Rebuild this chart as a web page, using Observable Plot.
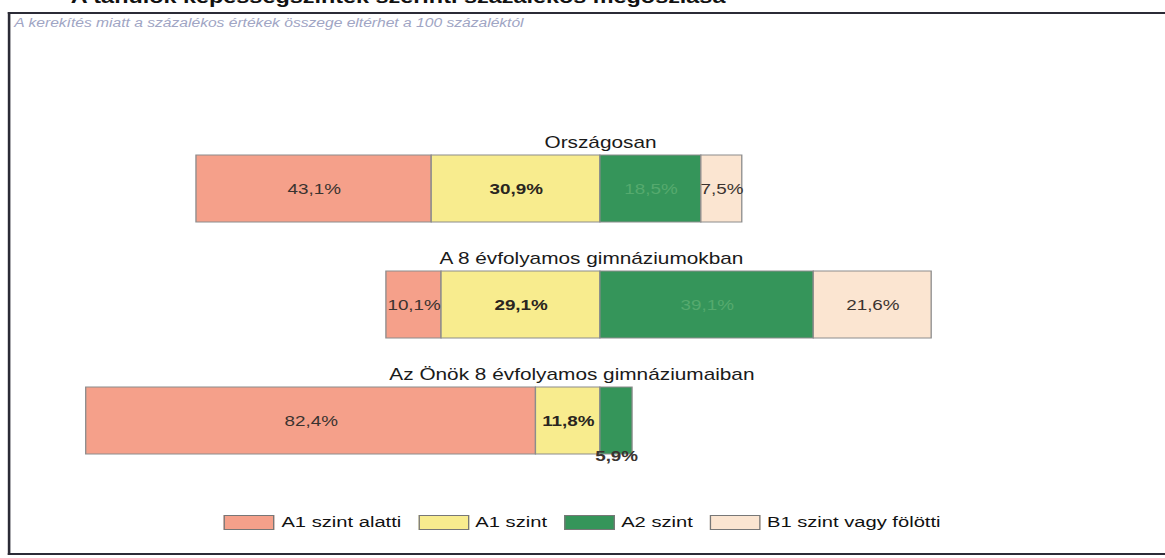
<!DOCTYPE html>
<html>
<head>
<meta charset="utf-8">
<script src="https://cdn.jsdelivr.net/npm/d3@7"></script>
<script src="https://cdn.jsdelivr.net/npm/@observablehq/plot@0.6"></script>
<style>
  html, body { margin: 0; padding: 0; background: #fff; overflow: hidden; width: 1165px; height: 558px; }
  #wrap { position: absolute; left: 0; top: 0; width: 896px; height: 558px; transform: scaleX(1.3); transform-origin: 0 0; font-family: "Liberation Sans", Arial, sans-serif; }
  #frame { position: absolute; left: 6px; top: 12px; width: 1000px; height: 539px; border: 2px solid #2b2b36; border-right: none; }
  #title { position: absolute; right: 338px; top: -12px; white-space: nowrap; font-size: 18px; font-weight: bold; color: #111; line-height: 1; }
  #subtitle { position: absolute; left: 11px; top: 16px; font-size: 12px; font-style: italic; color: #a0a5c4; white-space: nowrap; }
  #chart { position: absolute; left: 0; top: 0; }
  #legend { position: absolute; left: 0; width: 896px; top: 513px; display: flex; justify-content: center; align-items: center; font-size: 15.5px; color: #111; }
  .item { display: flex; align-items: center; margin: 0 6.5px; }
  .sw { width: 39px; height: 15px; border: 1px solid #777; margin-right: 5px; box-sizing: border-box; }
</style>
</head>
<body>
<div id="wrap">
  <div id="title">A tanulók képességszintek szerinti százalékos megoszlása</div>
  <div id="frame"></div>
  <div id="subtitle">A kerekítés miatt a  százalékos értékek összege eltérhet a 100 százaléktól</div>
  <div id="chart"></div>
  <div id="legend"></div>
</div>
<script>
const groups = ["Országosan", "A 8 évfolyamos gimnáziumokban", "Az Önök 8 évfolyamos gimnáziumaiban"];
const levels = ["A1 szint alatti", "A1 szint", "A2 szint", "B1 szint vagy fölötti"];
const belowA1 = [43.1, 10.1, 82.4];
const levelA1 = [30.9, 29.1, 11.8];
const levelA2 = [18.5, 39.1, 5.9];
const levelB1 = [7.5, 21.6, 0];
const colors = ["#f5a08a", "#f8ec8e", "#35955a", "#fbe5d1"];

const fmt = v => v.toFixed(1).replace(".", ",") + "%";

const segments = [];
groups.forEach((g, i) => {
  const a = belowA1[i], b = levelA1[i], c = levelA2[i], d = levelB1[i];
  segments.push({group: g, level: levels[0], value: a, x1: -(a + b), x2: -b});
  segments.push({group: g, level: levels[1], value: b, x1: -b, x2: 0});
  segments.push({group: g, level: levels[2], value: c, x1: 0, x2: c});
  if (d > 0) segments.push({group: g, level: levels[3], value: d, x1: c, x2: c + d});
});

const isBelow = s => s.level === levels[2] && s.value < 7;
const plainLabels = segments.filter(s => !isBelow(s) && s.level !== levels[1]);
const yellowLabels = segments.filter(s => s.level === levels[1]);
const belowLabels = segments.filter(isBelow);
const labelShift = [0, -7, -22];

const chart = Plot.plot({
  width: 896,
  height: 558,
  marginTop: 106,
  marginBottom: 55,
  marginLeft: 0,
  marginRight: 0,
  style: {fontFamily: "Liberation Sans, Arial, sans-serif", fontSize: "14px", background: "transparent", overflow: "visible"},
  x: {domain: [-109.9, 103.5], axis: null},
  y: {domain: groups, axis: null, padding: 0.422},
  color: {domain: levels, range: colors},
  marks: [
    Plot.barX(segments, {x1: "x1", x2: "x2", y: "group", fill: "level", stroke: "#8c8c8c", strokeWidth: 1}),
    Plot.text(plainLabels, {
      x: d => (d.x1 + d.x2) / 2, y: "group", text: d => fmt(d.value),
      fill: d => d.level === levels[2] ? "#55aa6e" : "#3a3330", fontSize: 14.5
    }),
    Plot.text(yellowLabels, {
      x: d => (d.x1 + d.x2) / 2, y: "group", text: d => fmt(d.value),
      fill: "#2a2520", fontSize: 14.5, fontWeight: "bold"
    }),
    Plot.text(belowLabels, {
      x: d => (d.x1 + d.x2) / 2, y: "group", text: d => fmt(d.value),
      fill: "#3a3330", fontSize: 14.5, fontWeight: "bold", dy: 35
    }),
    ...groups.map((g, i) => Plot.text([g], {
      x: () => 0, y: () => g, text: d => d, fill: "#1a1a1a", fontSize: 16, dy: -46, dx: labelShift[i]
    }))
  ]
});
document.getElementById("chart").appendChild(chart);

const legend = document.getElementById("legend");
levels.forEach((l, i) => {
  const item = document.createElement("div");
  item.className = "item";
  const sw = document.createElement("div");
  sw.className = "sw";
  sw.style.background = colors[i];
  const t = document.createElement("span");
  t.textContent = l;
  item.appendChild(sw);
  item.appendChild(t);
  legend.appendChild(item);
});
</script>
</body>
</html>
